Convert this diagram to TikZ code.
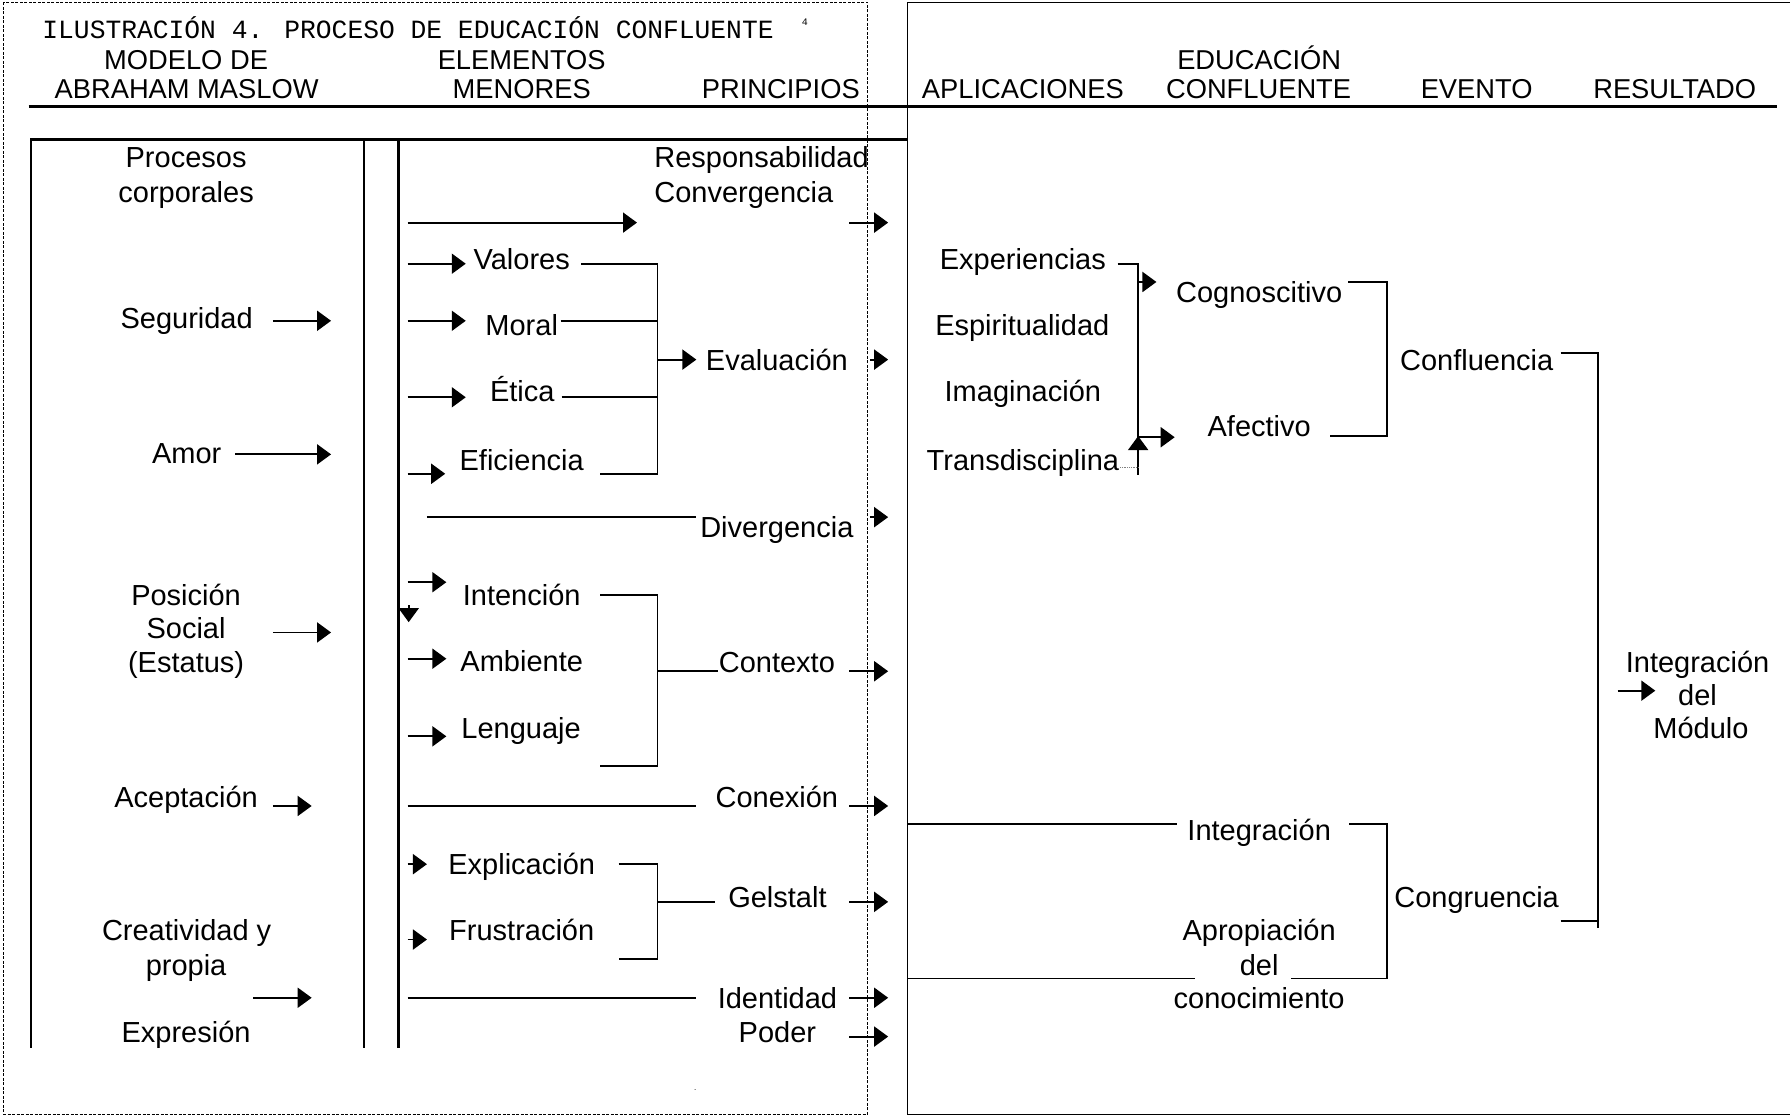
\documentclass[tikz,border=0pt]{standalone}
\usepackage{fontspec}
\setmainfont{Liberation Sans}
\newfontfamily\titlemono{Liberation Mono}
\usetikzlibrary{arrows.meta}
\newcommand\bodysize{\fontsize{29}{34}\selectfont}
\newcommand\headsize{\fontsize{27.3}{32}\selectfont}

\begin{document}
\begin{tikzpicture}[x=1.1416pt, y=-1.1416pt,
  txt/.style={font=\bodysize, inner sep=0pt, text height=20.8pt, text depth=0pt},
  hdr/.style={font=\headsize, inner sep=0pt, text height=19.5pt, text depth=0pt},
  heavy/.style={line width=3pt},
  rule/.style={line width=2.2pt},
  wire/.style={line width=1.8pt},
  thin/.style={line width=1.6pt},
  frame/.style={line width=1pt},
  arr/.style={line width=1.9pt, -{Triangle[length=14pt,width=20pt]}},
]
\useasboundingbox (0,0) rectangle (1568,978);

% frames
\draw[frame, dash pattern=on 3pt off 1.5pt] (3,2) rectangle (760,976);
\draw[frame] (1568,2) -- (795,2) -- (795,976) -- (1568,976);

% title
\node[font=\titlemono\fontsize{26.3}{30}\selectfont, anchor=base west, inner sep=0pt] (title) at (37,34) {ILUSTRACIÓN 4. PROCESO DE EDUCACIÓN CONFLUENTE};
\node[font=\titlemono\fontsize{10}{12}\selectfont, anchor=base, inner sep=0pt] (fnote) at (705,22) {4};

% column headings
\node[hdr] (h1a) at (163,52) {MODELO DE};
\node[hdr] (h1b) at (163.5,78) {ABRAHAM MASLOW};
\node[hdr] (h2a) at (457,52) {ELEMENTOS};
\node[hdr] (h2b) at (457,78) {MENORES};
\node[hdr] (h3) at (684,78) {PRINCIPIOS};
\node[hdr] (h4) at (896,78) {APLICACIONES};
\node[hdr] (h5a) at (1103,52) {EDUCACIÓN};
\node[hdr] (h5b) at (1102.5,78) {CONFLUENTE};
\node[hdr] (h6) at (1293.5,78) {EVENTO};
\node[hdr] (h7) at (1467,78) {RESULTADO};

\draw[heavy] (25,93) -- (1557,93);
\draw[heavy] (27,122) -- (795,122);

% table columns
\draw[rule] (27,121) -- (27,918);
\draw[rule] (319,121) -- (319,918);
\draw[rule] (349,121) -- (349,918);

% Maslow column
\node[txt] (proc1) at (163,138) {Procesos};
\node[txt] (proc2) at (163,168) {corporales};
\node[txt] (seg) at (163.5,279) {Seguridad};
\node[txt] (amor) at (163.5,397) {Amor};
\node[txt] (pos1) at (163,521) {Posición};
\node[txt] (pos2) at (163,550) {Social};
\node[txt] (pos3) at (163,580) {(Estatus)};
\node[txt] (acep) at (163,698) {Aceptación};
\node[txt] (crea1) at (163.5,815) {Creatividad y};
\node[txt] (crea2) at (163,845) {propia};
\node[txt] (expr) at (163,904) {Expresión};

\draw[arr] (239,281) -- (290,281);
\draw[arr] (206,398) -- (290,398);
\draw[arr] (239,554) -- (290,554);
\draw[arr] (239,706) -- (273,706);
\draw[arr] (222,874) -- (273,874);

% minor elements
\node[txt] (val) at (457,227) {Valores};
\node[txt] (mor) at (457,285) {Moral};
\node[txt] (eti) at (457.5,343) {Ética};
\node[txt] (efi) at (457,403) {Eficiencia};
\node[txt] (inte) at (457,521) {Intención};
\node[txt] (amb) at (457,579) {Ambiente};
\node[txt] (len) at (456.5,638) {Lenguaje};
\node[txt] (expl) at (457,757) {Explicación};
\node[txt] (frus) at (457,815) {Frustración};

\draw[arr] (357,195) -- (558,195);
\draw[arr] (357,231) -- (408,231);
\draw[arr] (357,281) -- (408,281);
\draw[arr] (357,348) -- (408,348);
\draw[arr] (357,415) -- (390,415);
\draw[wire] (374,453) -- (610,453);
\draw[arr] (357,510) -- (391,510);
\draw[arr] (358,530) -- (358,545);
\draw[arr] (357,577) -- (391,577);
\draw[arr] (357,645) -- (391,645);
\draw[wire] (357,706) -- (610,706);
\draw[arr] (357,757) -- (374,757);
\draw[arr] (357,823) -- (374,823);
\draw[wire] (357,874) -- (610,874);

% brackets into the principles
\coordinate (evJ) at (576,315);
\draw[wire] (509,231) -- (576,231) -- (576,415) -- (526,415);
\draw[wire] (491,281) -- (576,281);
\draw[wire] (492,348) -- (576,348);
\draw[arr] (evJ) -- (610,315);

\coordinate (ctJ) at (576,588);
\draw[wire] (526,521) -- (576,521) -- (576,671) -- (526,671);
\draw[wire] (ctJ) -- (629,588);

\coordinate (geJ) at (576,790);
\draw[wire] (542,757) -- (576,757) -- (576,840) -- (542,840);
\draw[wire] (geJ) -- (626,790);

% principles
\node[txt, anchor=west] (resp) at (573,138) {Responsabilidad};
\node[txt, anchor=west] (conv) at (573,168) {Convergencia};
\node[txt] (eval) at (680.5,315) {Evaluación};
\node[txt] (div) at (680.5,462) {Divergencia};
\node[txt] (ctx) at (680.5,580) {Contexto};
\node[txt] (cnx) at (680.5,698) {Conexión};
\node[txt] (gel) at (681,786) {Gelstalt};
\node[txt] (ide) at (681,874) {Identidad};
\node[txt] (pod) at (681,904) {Poder};

\draw[arr] (744,195) -- (778,195);
\draw[arr] (762,315) -- (778,315);
\draw[arr] (762,453) -- (778,453);
\draw[arr] (744,588) -- (778,588);
\draw[arr] (744,706) -- (778,706);
\draw[arr] (744,790) -- (778,790);
\draw[arr] (744,874) -- (778,874);
\draw[arr] (744,908) -- (778,908);

\node[font=\fontsize{8}{10}\selectfont, inner sep=0pt] (stray) at (609,955) {.};

% applications
\node[txt] (exp) at (896,227) {Experiencias};
\node[txt] (esp) at (895.5,285) {Espiritualidad};
\node[txt] (ima) at (896,343) {Imaginación};
\node[txt] (tra) at (896,403) {Transdisciplina};

\draw[thin] (979,231) -- (997,231) -- (997,416);
\draw[gray, line width=0.8pt, densely dotted] (981,409) -- (997,409);
\draw[arr] (997,247) -- (1013,247);
\draw[arr] (997,383) -- (1029,383);
\draw[arr] (997,402) -- (997,382);

% confluent education
\node[txt] (cog) at (1103,256) {Cognoscitivo};
\node[txt] (afe) at (1103,373) {Afectivo};
\node[txt] (intg) at (1103,727) {Integración};
\node[txt] (apr1) at (1103,815) {Apropiación};
\node[txt] (apr2) at (1103,845) {del};
\node[txt] (apr3) at (1103,874) {conocimiento};

\draw[thin] (1181,247) -- (1215,247) -- (1215,382) -- (1165,382);
\draw[thin] (795,722) -- (1031,722);
\draw[thin] (1182,722) -- (1215,722) -- (1215,857) -- (1131,857);
\draw[thin] (795,857) -- (1047,857);

% events
\node[txt] (conf) at (1293.5,315) {Confluencia};
\node[txt] (cong) at (1293.5,786) {Congruencia};
\draw[thin] (1367,309) -- (1400,309) -- (1400,813);
\draw[thin] (1367,807) -- (1400,807);

% result
\node[txt] (res1) at (1487,580) {Integración};
\node[txt] (res2) at (1487,609) {del};
\node[txt] (res3) at (1490,638) {Módulo};
\draw[arr] (1417,605) -- (1450,605);

\end{tikzpicture}
\end{document}
